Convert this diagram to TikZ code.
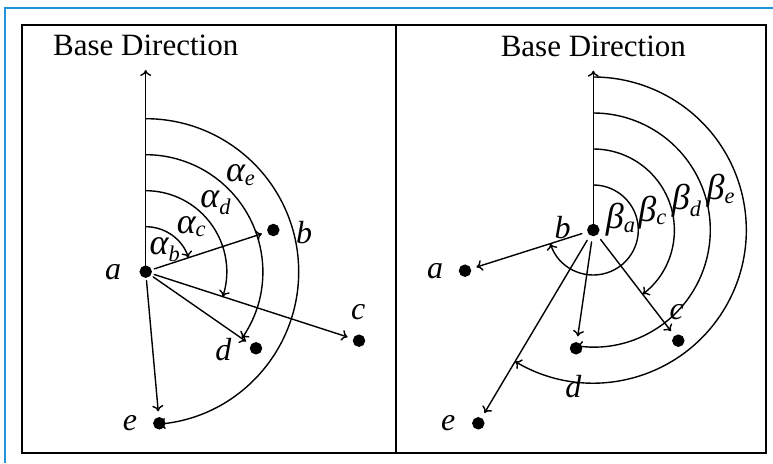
\documentclass[tikz,border=0pt]{standalone}
\usepackage{fontspec}
\setmainfont{Liberation Serif}
\usepackage{tkz-euclide}
\usetikzlibrary{arrows.meta,calc,positioning}
\definecolor{FrameClr}{rgb}{0.12,0.58,0.86}
\newcommand{\AngLbl}[2]{{\fontsize{36}{40}\selectfont#1}\textsubscript{#2}}
% arc from the point on ray (#1,#2) at radius #3 back to the base direction
\newcommand{\DrawAngArc}[3]{%
  \draw[<-] let \p1=($(#2)-(#1)$), \n1={atan2(\y1,\x1)} in
    ($(#1)!#3!(#2)$) arc[start angle=\n1,end angle=90,radius=#3];}

\begin{document}
\begin{tikzpicture}[x=1pt,y=1pt,line width=1.4pt,>={To[length=6pt,width=11pt]},
  lbl/.style={anchor=center,inner sep=0pt,font=\fontsize{32}{36}\selectfont\itshape},
  basetxt/.style={inner sep=0pt,font=\fontsize{31}{35}\selectfont}]
\useasboundingbox (0,0) rectangle (773,463);
\tkzSetUpLine[line width=1.4pt,color=black]

% frames
\draw[FrameClr,line width=1.6pt] (4.7,0) -- (4.7,454.7) -- (773,454.7);
\draw[line width=2pt] (21.7,10) rectangle (765.7,438);
\draw[line width=2pt] (396,10) -- (396,438);

% left panel, angles alpha seen from a
\tkzDefPoints{145.7/191.3/a,273.3/233/b,359/122.3/c,256/114.7/d,159.3/39.7/e,145.7/393/Ta}

\tkzDrawSegment[->](a,Ta)
\DrawAngArc{a}{b}{45pt}
\DrawAngArc{a}{c}{81pt}
\DrawAngArc{a}{d}{117pt}
\DrawAngArc{a}{e}{153pt}
\tkzDrawSegments[->,shorten <=9pt,shorten >=12pt](a,b a,c a,d a,e)
\tkzDrawPoints[size=11,fill=black](a,b,c,d,e)

\node[basetxt,above=13pt of Ta] (bdl) {Base Direction};
\tkzLabelPoint[lbl,name=la,xshift=-32.7pt](a){a}
\tkzLabelPoint[lbl,name=lb,xshift=30.7pt,yshift=-3pt](b){b}
\tkzLabelPoint[lbl,name=lc,xshift=-0.7pt,yshift=29pt](c){c}
\tkzLabelPoint[lbl,name=ld,xshift=-32.7pt,yshift=-1.7pt](d){d}
\tkzLabelPoint[lbl,name=le,xshift=-29.3pt](e){e}
\tkzLabelPoint[lbl,name=lab,xshift=19.3pt,yshift=21.7pt](a){\AngLbl{α}{b}}
\tkzLabelPoint[lbl,name=lac,xshift=45.8pt,yshift=45pt](a){\AngLbl{α}{c}}
\tkzLabelPoint[lbl,name=lad,xshift=70pt,yshift=69.2pt](a){\AngLbl{α}{d}}
\tkzLabelPoint[lbl,name=lae,xshift=95pt,yshift=96.7pt](a){\AngLbl{α}{e}}

% right panel, angles beta seen from b
\tkzDefPoints{593.3/233/rb,465/192.3/ra,678.3/122.3/rc,576/114.7/rd,478.3/39.7/re,593.3/392.3/Tb}

\tkzDrawSegment[->](rb,Tb)
\DrawAngArc{rb}{ra}{45pt}
\DrawAngArc{rb}{rc}{81pt}
\DrawAngArc{rb}{rd}{117pt}
\DrawAngArc{rb}{re}{153pt}
\tkzDrawSegments[->,shorten <=12pt,shorten >=12pt](rb,ra rb,rc rb,rd rb,re)
\tkzDrawPoints[size=11,fill=black](ra,rb,rc,rd,re)

\node[basetxt,above=13pt of Tb] (bdr) {Base Direction};
\tkzLabelPoint[lbl,name=rla,xshift=-30pt](ra){a}
\tkzLabelPoint[lbl,name=rlb,xshift=-30.8pt,yshift=2pt](rb){b}
\tkzLabelPoint[lbl,name=rlc,xshift=-1.6pt,yshift=29pt](rc){c}
\tkzLabelPoint[lbl,name=rld,xshift=-2.7pt,yshift=-38.4pt](rd){d}
\tkzLabelPoint[lbl,name=rle,xshift=-30pt](re){e}
\tkzLabelPoint[lbl,name=lba,xshift=27.5pt,yshift=10pt](rb){\AngLbl{β}{a}}
\tkzLabelPoint[lbl,name=lbc,xshift=59.2pt,yshift=17.7pt](rb){\AngLbl{β}{c}}
\tkzLabelPoint[lbl,name=lbd,xshift=93.4pt,yshift=29pt](rb){\AngLbl{β}{d}}
\tkzLabelPoint[lbl,name=lbe,xshift=127.5pt,yshift=39pt](rb){\AngLbl{β}{e}}
\end{tikzpicture}
\end{document}
